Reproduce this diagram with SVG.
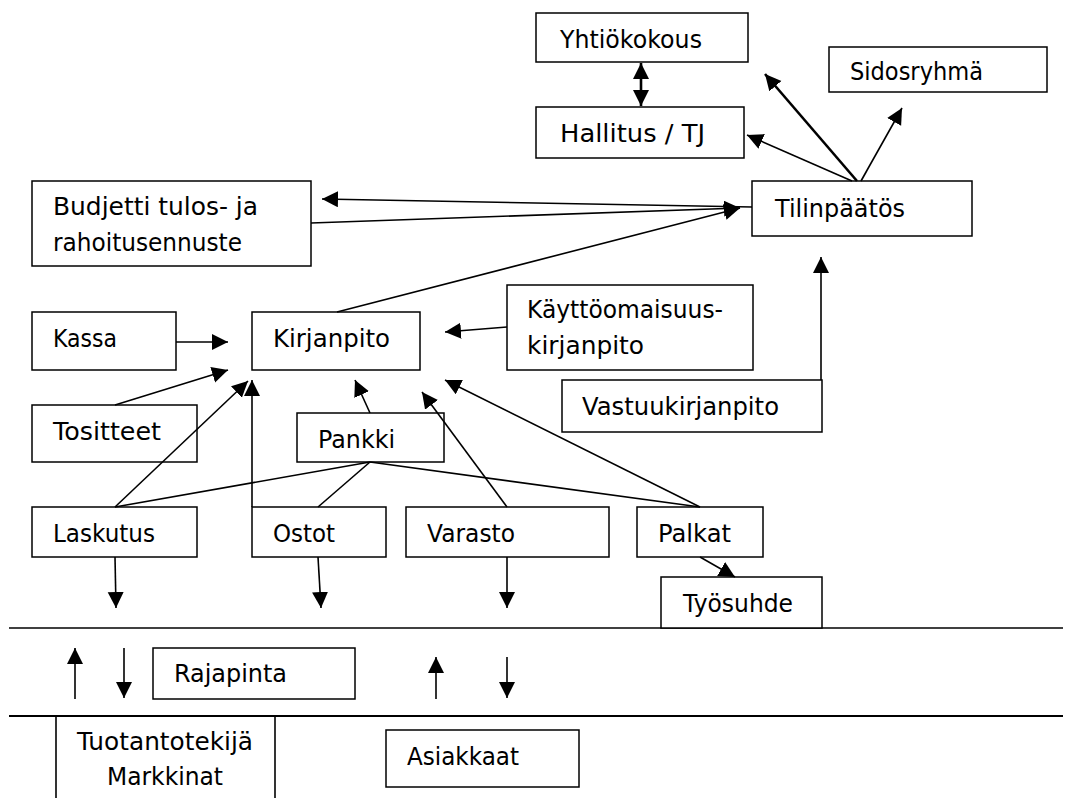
<svg xmlns="http://www.w3.org/2000/svg" width="1067" height="798" viewBox="0 0 1067 798">
<style>
.box{fill:#fff;stroke:#000;stroke-width:1.5}
.t{font-family:"DejaVu Sans","Liberation Sans",sans-serif;font-size:24px;fill:#000}
.c{fill:none;stroke:#000;stroke-width:1.6}
.ck{fill:none;stroke:#000;stroke-width:2.6}
.a{marker-end:url(#ah)}
.sep{stroke:#000;fill:none}
</style>
<defs>
<marker id="ah" markerUnits="userSpaceOnUse" markerWidth="18" markerHeight="18" refX="16" refY="8" orient="auto-start-reverse" viewBox="0 0 18 18">
<path d="M0,0 L16,8 L0,16 z" fill="#000"/>
</marker>
</defs>
<rect width="1067" height="798" fill="#fff"/>
<g id="separators">
<line class="sep" x1="9" y1="628" x2="1063" y2="628" stroke-width="1.3"/>
<line class="sep" x1="9" y1="716" x2="1063" y2="716" stroke-width="2"/>
</g>
<g id="yhtiokokous"><rect class="box" x="536" y="13" width="212" height="49"/><text class="t" x="560" y="48" textLength="142" lengthAdjust="spacingAndGlyphs">Yhtiökokous</text></g>
<g id="sidosryhma"><rect class="box" x="829" y="47" width="218" height="45"/><text class="t" x="850" y="80" textLength="133" lengthAdjust="spacingAndGlyphs">Sidosryhmä</text></g>
<g id="hallitus"><rect class="box" x="536" y="107" width="208" height="51"/><text class="t" x="560" y="142" textLength="145" lengthAdjust="spacingAndGlyphs">Hallitus / TJ</text></g>
<g id="tilinpaatos"><rect class="box" x="752" y="181" width="220" height="55"/><text class="t" x="775" y="217" textLength="130" lengthAdjust="spacingAndGlyphs">Tilinpäätös</text></g>
<g id="budjetti"><rect class="box" x="32" y="181" width="279" height="85"/><text class="t" x="53" y="215" textLength="205" lengthAdjust="spacingAndGlyphs">Budjetti tulos- ja</text><text class="t" x="53" y="251" textLength="189" lengthAdjust="spacingAndGlyphs">rahoitusennuste</text></g>
<g id="kassa"><rect class="box" x="32" y="312" width="144" height="58"/><text class="t" x="53" y="347" textLength="64" lengthAdjust="spacingAndGlyphs">Kassa</text></g>
<g id="kirjanpito"><rect class="box" x="252" y="312" width="168" height="58"/><text class="t" x="273" y="347" textLength="117" lengthAdjust="spacingAndGlyphs">Kirjanpito</text></g>
<g id="kayttoomaisuus"><rect class="box" x="507" y="285" width="246" height="85"/><text class="t" x="527" y="318" textLength="196" lengthAdjust="spacingAndGlyphs">Käyttöomaisuus-</text><text class="t" x="527" y="354" textLength="117" lengthAdjust="spacingAndGlyphs">kirjanpito</text></g>
<g id="vastuukirjanpito"><rect class="box" x="562" y="380" width="260" height="52"/><text class="t" x="582" y="415" textLength="197" lengthAdjust="spacingAndGlyphs">Vastuukirjanpito</text></g>
<g id="tositteet"><rect class="box" x="32" y="405" width="165" height="57"/><text class="t" x="53" y="440" textLength="108" lengthAdjust="spacingAndGlyphs">Tositteet</text></g>
<g id="pankki"><rect class="box" x="297" y="413" width="147" height="49"/><text class="t" x="318" y="448" textLength="77" lengthAdjust="spacingAndGlyphs">Pankki</text></g>
<g id="laskutus"><rect class="box" x="32" y="507" width="165" height="50"/><text class="t" x="53" y="542" textLength="102" lengthAdjust="spacingAndGlyphs">Laskutus</text></g>
<g id="ostot"><rect class="box" x="252" y="507" width="134" height="50"/><text class="t" x="273" y="542" textLength="62" lengthAdjust="spacingAndGlyphs">Ostot</text></g>
<g id="varasto"><rect class="box" x="406" y="507" width="203" height="50"/><text class="t" x="427" y="542" textLength="88" lengthAdjust="spacingAndGlyphs">Varasto</text></g>
<g id="palkat"><rect class="box" x="637" y="507" width="126" height="50"/><text class="t" x="658" y="542" textLength="73" lengthAdjust="spacingAndGlyphs">Palkat</text></g>
<g id="tyosuhde"><rect class="box" x="661" y="577" width="161" height="51"/><text class="t" x="683" y="612" textLength="110" lengthAdjust="spacingAndGlyphs">Työsuhde</text></g>
<g id="rajapinta"><rect class="box" x="153" y="648" width="202" height="51"/><text class="t" x="174" y="682" textLength="113" lengthAdjust="spacingAndGlyphs">Rajapinta</text></g>
<g id="tuotantotekija"><line class="c" x1="56" y1="716" x2="56" y2="798"/><line class="c" x1="275" y1="716" x2="275" y2="798"/><text class="t" x="77" y="750" textLength="176" lengthAdjust="spacingAndGlyphs">Tuotantotekijä</text><text class="t" x="107" y="785" textLength="116" lengthAdjust="spacingAndGlyphs">Markkinat</text></g>
<g id="asiakkaat"><rect class="box" x="386" y="730" width="193" height="57"/><text class="t" x="407" y="765" textLength="112" lengthAdjust="spacingAndGlyphs">Asiakkaat</text></g>
<g id="connectors">
<line class="ck" x1="641" y1="63" x2="641" y2="106" marker-start="url(#ah)" marker-end="url(#ah)"/>
<line class="c a" x1="852" y1="181" x2="747" y2="135"/>
<line class="ck a" x1="857" y1="181" x2="765" y2="74"/>
<line class="c a" x1="861" y1="181" x2="902" y2="108"/>
<line class="c a" x1="752" y1="207" x2="322" y2="199"/>
<line class="c a" x1="311" y1="223" x2="740" y2="208"/>
<line class="c a" x1="337" y1="312" x2="740" y2="208"/>
<line class="c a" x1="821" y1="380" x2="821" y2="257"/>
<line class="c a" x1="176" y1="342" x2="228" y2="342"/>
<line class="c a" x1="507" y1="327" x2="445" y2="332"/>
<line class="c a" x1="115" y1="405" x2="228" y2="370"/>
<line class="c a" x1="115" y1="507" x2="248" y2="381"/>
<line class="c a" x1="252" y1="507" x2="252" y2="380"/>
<line class="c a" x1="370" y1="413" x2="355" y2="380"/>
<line class="c a" x1="507" y1="507" x2="422" y2="392"/>
<line class="c a" x1="700" y1="507" x2="445" y2="380"/>
<line class="c" x1="370" y1="462" x2="115" y2="507"/>
<line class="c" x1="370" y1="462" x2="318" y2="507"/>
<line class="c" x1="370" y1="462" x2="700" y2="507"/>
<line class="c a" x1="115" y1="557" x2="116" y2="608"/>
<line class="c a" x1="318" y1="557" x2="321" y2="608"/>
<line class="c a" x1="507" y1="557" x2="507" y2="608"/>
<line class="c a" x1="700" y1="557" x2="735" y2="577"/>
<line class="c a" x1="75" y1="699" x2="75" y2="648"/>
<line class="c a" x1="124" y1="648" x2="124" y2="698"/>
<line class="c a" x1="436" y1="699" x2="436" y2="657"/>
<line class="c a" x1="507" y1="657" x2="507" y2="698"/>
</g>
</svg>
